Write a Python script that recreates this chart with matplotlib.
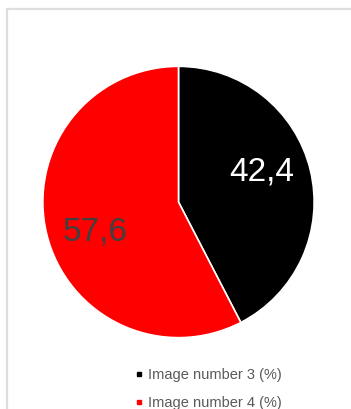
import numpy as np
import matplotlib.pyplot as plt
from matplotlib.lines import Line2D
from matplotlib.patches import Rectangle

plt.rcParams["font.family"] = ["Liberation Sans", "DejaVu Sans"]

W, H = 351, 409

labels = ["Image number 3 (%)", "Image number 4 (%)"]
values = [42.4, 57.6]
colors = ["#000000", "#ff0000"]
text_colors = ["#ffffff", "#404040"]


def fmt(p):
    return f"{p:.1f}".replace(".", ",")


fig = plt.figure(figsize=(W / 100, H / 100), dpi=100)
fig.patch.set_facecolor("white")

# light grey chart frame, runs off the right and bottom edges
fig.add_artist(Rectangle((7 / W, -0.1), 1.2, (H - 9) / H + 0.1,
                         transform=fig.transFigure, fill=False,
                         edgecolor="#dedede", linewidth=1.6))

cx, cy, r = 178.5, 202, 137
ax = fig.add_axes([(cx - r) / W, (H - cy - r) / H, 2 * r / W, 2 * r / H])
wedges, texts, autotexts = ax.pie(
    values, colors=colors, startangle=90, counterclock=False,
    autopct=fmt, pctdistance=0.67,
    wedgeprops=dict(edgecolor="white", linewidth=1.2),
    textprops=dict(fontsize=24),
)
# data labels sit a little counter-clockwise of the wedge middle
for w, t, c in zip(wedges, autotexts, text_colors):
    ang = np.deg2rad((w.theta1 + w.theta2) / 2 + 6)
    t.set_position((0.65 * np.cos(ang), 0.65 * np.sin(ang)))
    t.set_color(c)
ax.set_xlim(-1.01, 1.01)
ax.set_ylim(-1.01, 1.01)
ax.set_aspect("equal")

handles = [Line2D([], [], marker="s", linestyle="none", markersize=3.5,
                  markerfacecolor=c, markeredgecolor=c) for c in colors]
fig.legend(handles, labels, loc="upper left", bbox_to_anchor=(129 / W, (H - 362) / H),
           frameon=False, fontsize=10.5, labelcolor="#595959",
           handlelength=0.6, handletextpad=0.3, labelspacing=0.95, borderaxespad=0)

fig.savefig("out.png", dpi=100)
